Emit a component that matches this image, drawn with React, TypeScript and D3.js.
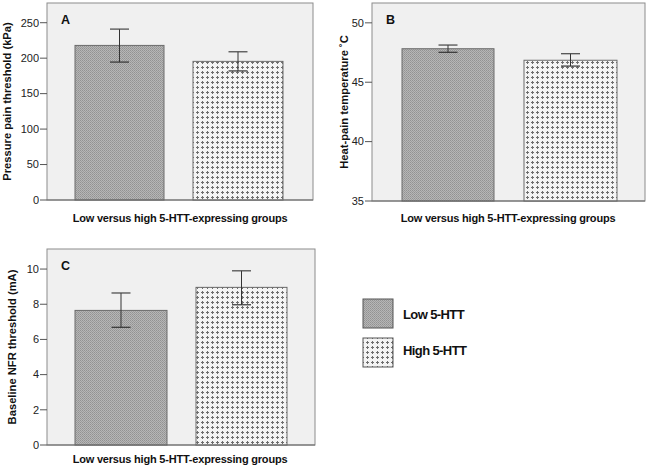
import React from "react";
import * as d3 from "d3";

const groups = ["Low 5-HTT", "High 5-HTT"];
const pressureMeans = [218, 195.5];
const pressureLow = [194.5, 182];
const pressureHigh = [241, 209];
const heatMeans = [47.82, 46.85];
const heatLow = [47.52, 46.36];
const heatHigh = [48.13, 47.4];
const nfrMeans = [7.65, 8.96];
const nfrLow = [6.69, 7.97];
const nfrHigh = [8.64, 9.9];
const pressureTicks = [0, 50, 100, 150, 200, 250];
const heatTicks = [35, 40, 45, 50];
const nfrTicks = [0, 2, 4, 6, 8, 10];
const xTitle = "Low versus high 5-HTT-expressing groups";

const FONT = "'Liberation Sans', Arial, sans-serif";

type PanelProps = {
  left: number; right: number; top: number; bottom: number;
  domain: [number, number]; ticks: number[];
  means: number[]; lo: number[]; hi: number[];
  bars: [number, number][]; letter: string; yTitle: string;
  yTitleX: number; xTitleX: number; xTitleY: number;
};

function Panel(p: PanelProps) {
  const y = d3.scaleLinear().domain(p.domain).range([p.bottom, p.top]);
  const fills = ["url(#patLow)", "url(#patHigh)"];
  return (
    <g>
      <rect x={p.left} y={p.top} width={p.right - p.left} height={p.bottom - p.top} fill="#f0f0f0" stroke="#8c8c8c" strokeWidth={1} />
      {p.ticks.map((t) => (
        <g key={t}>
          <line x1={p.left - 7} x2={p.left} y1={y(t)} y2={y(t)} stroke="#555" />
          <text x={p.left - 8} y={y(t) + 3.8} textAnchor="end" fontSize={11} fontFamily={FONT} fill="#222">{t}</text>
        </g>
      ))}
      {groups.map((g, i) => {
        const [x0, x1] = p.bars[i];
        const cx = (x0 + x1) / 2;
        return (
          <g key={g}>
            <rect x={x0} y={y(p.means[i])} width={x1 - x0} height={p.bottom - y(p.means[i])} fill={fills[i]} stroke="#6a6a6a" strokeWidth={1} />
            <line x1={cx} x2={cx} y1={y(p.hi[i])} y2={y(p.lo[i])} stroke="#333" strokeWidth={1} />
            <line x1={cx - 9.5} x2={cx + 9.5} y1={y(p.hi[i])} y2={y(p.hi[i])} stroke="#444" strokeWidth={1.2} />
            <line x1={cx - 9.5} x2={cx + 9.5} y1={y(p.lo[i])} y2={y(p.lo[i])} stroke="#333" strokeWidth={1.2} />
          </g>
        );
      })}
      <line x1={p.left} x2={p.right} y1={p.bottom} y2={p.bottom} stroke="#666" strokeWidth={1} />
      <text x={p.left + 14} y={p.top + 21} fontSize={12.5} fontWeight="bold" fontFamily={FONT} fill="#111">{p.letter}</text>
      <text transform={`translate(${p.yTitleX},${(p.top + p.bottom) / 2}) rotate(-90)`} textAnchor="middle" fontSize={11.2} fontWeight="bold" fontFamily={FONT} fill="#111">{p.yTitle}</text>
      <text x={p.xTitleX} y={p.xTitleY} textAnchor="middle" fontSize={11} fontWeight="bold" fontFamily={FONT} fill="#111" letterSpacing={-0.2}>{xTitle}</text>
    </g>
  );
}

export default function App() {
  return (
    <svg width={649} height={467} style={{ position: "absolute", left: 0, top: 0 }}>
      <defs>
        <pattern id="patLow" width={2} height={2} patternUnits="userSpaceOnUse">
          <rect width={2} height={2} fill="#b6b6b6" />
          <rect width={1} height={1} fill="#929292" />
          <rect x={1} y={1} width={1} height={1} fill="#9c9c9c" />
        </pattern>
        <pattern id="patHigh" width={5} height={5} patternUnits="userSpaceOnUse">
          <rect width={5} height={5} fill="#f4f4f4" />
          <rect x={2} y={1} width={1} height={3} fill="#6e6e6e" />
          <rect x={1} y={2} width={3} height={1} fill="#6e6e6e" />
        </pattern>
      </defs>
      <Panel left={47} right={313} top={3} bottom={200} domain={[0, 277.8]} ticks={pressureTicks}
        means={pressureMeans} lo={pressureLow} hi={pressureHigh}
        bars={[[75, 164], [193, 283]]} letter="A" yTitle="Pressure pain threshold (kPa)"
        yTitleX={11} xTitleX={180} xTitleY={222} />
      <Panel left={372} right={645} top={3} bottom={201} domain={[35, 51.67]} ticks={heatTicks}
        means={heatMeans} lo={heatLow} hi={heatHigh}
        bars={[[402, 494], [524, 617]]} letter="B" yTitle="Heat-pain temperature ˚C"
        yTitleX={348} xTitleX={508} xTitleY={222} />
      <Panel left={47} right={315} top={249} bottom={445} domain={[0, 11.14]} ticks={nfrTicks}
        means={nfrMeans} lo={nfrLow} hi={nfrHigh}
        bars={[[75, 167], [196, 287]]} letter="C" yTitle="Baseline NFR threshold (mA)"
        yTitleX={16} xTitleX={180} xTitleY={463} />
      {groups.map((g, i) => (
        <g key={g}>
          <rect x={363} y={299 + i * 39} width={30} height={29} fill={i === 0 ? "url(#patLow)" : "url(#patHigh)"} stroke="#555" strokeWidth={1} />
          <text x={403} y={319 + i * 36} fontSize={13} fontWeight="bold" fontFamily={FONT} fill="#111" letterSpacing={-0.6}>{g}</text>
        </g>
      ))}
    </svg>
  );
}
